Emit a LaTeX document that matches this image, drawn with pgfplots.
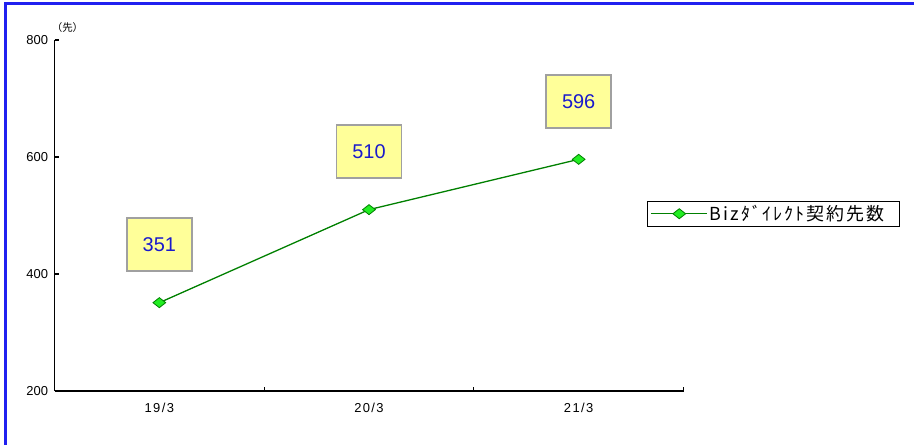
\documentclass[border=0pt]{standalone}
\usepackage{pgfplots}
\pgfplotsset{compat=1.18}
\usepackage{fontspec}
\setmainfont{Liberation Sans}
\newfontfamily\cjk{Noto Sans CJK JP}
\newfontfamily\cjkl[LetterSpace=11]{Noto Sans CJK JP}
\definecolor{lineg}{HTML}{008000}
\definecolor{markg}{HTML}{22EE22}
\definecolor{boxy}{HTML}{FFFF99}
\definecolor{boxb}{HTML}{A0A0A0}
\definecolor{lblue}{HTML}{1A1ACC}
\definecolor{frameb}{HTML}{2020F0}
\newcommand{\lsp}{\kern1.4bp}
\begin{document}
\begin{tikzpicture}
\path[use as bounding box] (0bp,0bp) rectangle (914bp,445bp);
\draw[frameb, line width=2.2bp] (5.5bp,0bp) -- (5.5bp,441.5bp) -- (914bp,441.5bp);
\node[font=\cjk\fontsize{10.5}{12}\selectfont, anchor=center] at (67.5bp,417bp) {（先）};
\begin{axis}[
  at={(54.5bp,54bp)}, anchor=south west,
  scale only axis, width=629bp, height=351bp,
  xmin=-0.5, xmax=2.5, ymin=200, ymax=800,
  axis x line*=bottom, axis y line*=left,
  axis line style={line width=1.5bp, black, -},
  tick align=inside,
  xtick={0,1,2}, xticklabels={1\lsp 9\lsp /\lsp 3, 2\lsp 0\lsp /\lsp 3, 2\lsp 1\lsp /\lsp 3},
  major x tick style={draw=none},
  minor xtick={0.5,1.5,2.5},
  minor tick length=4bp,
  minor x tick style={line width=1.2bp, black},
  ytick={200,400,600,800},
  major tick length=4bp,
  major y tick style={line width=1.2bp, black},
  tick label style={font=\fontsize{13}{15}\selectfont},
  xticklabel style={yshift=-9bp},
  yticklabel style={xshift=-3bp},
  /pgf/number format/assume math mode=true,
  clip=false,
  legend style={at={(0.942,0.505)}, anchor=west, draw=black, line width=1.2bp,
    fill=white, font=\cjkl\fontsize{18}{21}\selectfont, inner xsep=3bp, inner ysep=2bp,
    legend cell align=left},
  legend image code/.code={\draw[#1, mark repeat=2, mark phase=2] plot coordinates {(0bp,0bp) (28bp,0bp) (56bp,0bp)};},
  nodes near coords,
  every node near coord/.style={anchor=center, yshift=58bp, fill=boxy, draw=boxb,
    line width=1.5bp, minimum width=65bp, minimum height=53bp,
    text=lblue, font=\fontsize{20}{23}\selectfont},
]
\addplot[color=lineg, line width=1.3bp, mark=diamond*, mark size=5bp,
  mark options={fill=markg, draw=lineg, line width=0.8bp, xscale=1.7}]
  coordinates {(0,351) (1,510) (2,596)};
\addlegendentry{Bizﾀﾞｲﾚｸﾄ契約先数\kern10bp}
\end{axis}
\end{tikzpicture}
\end{document}
